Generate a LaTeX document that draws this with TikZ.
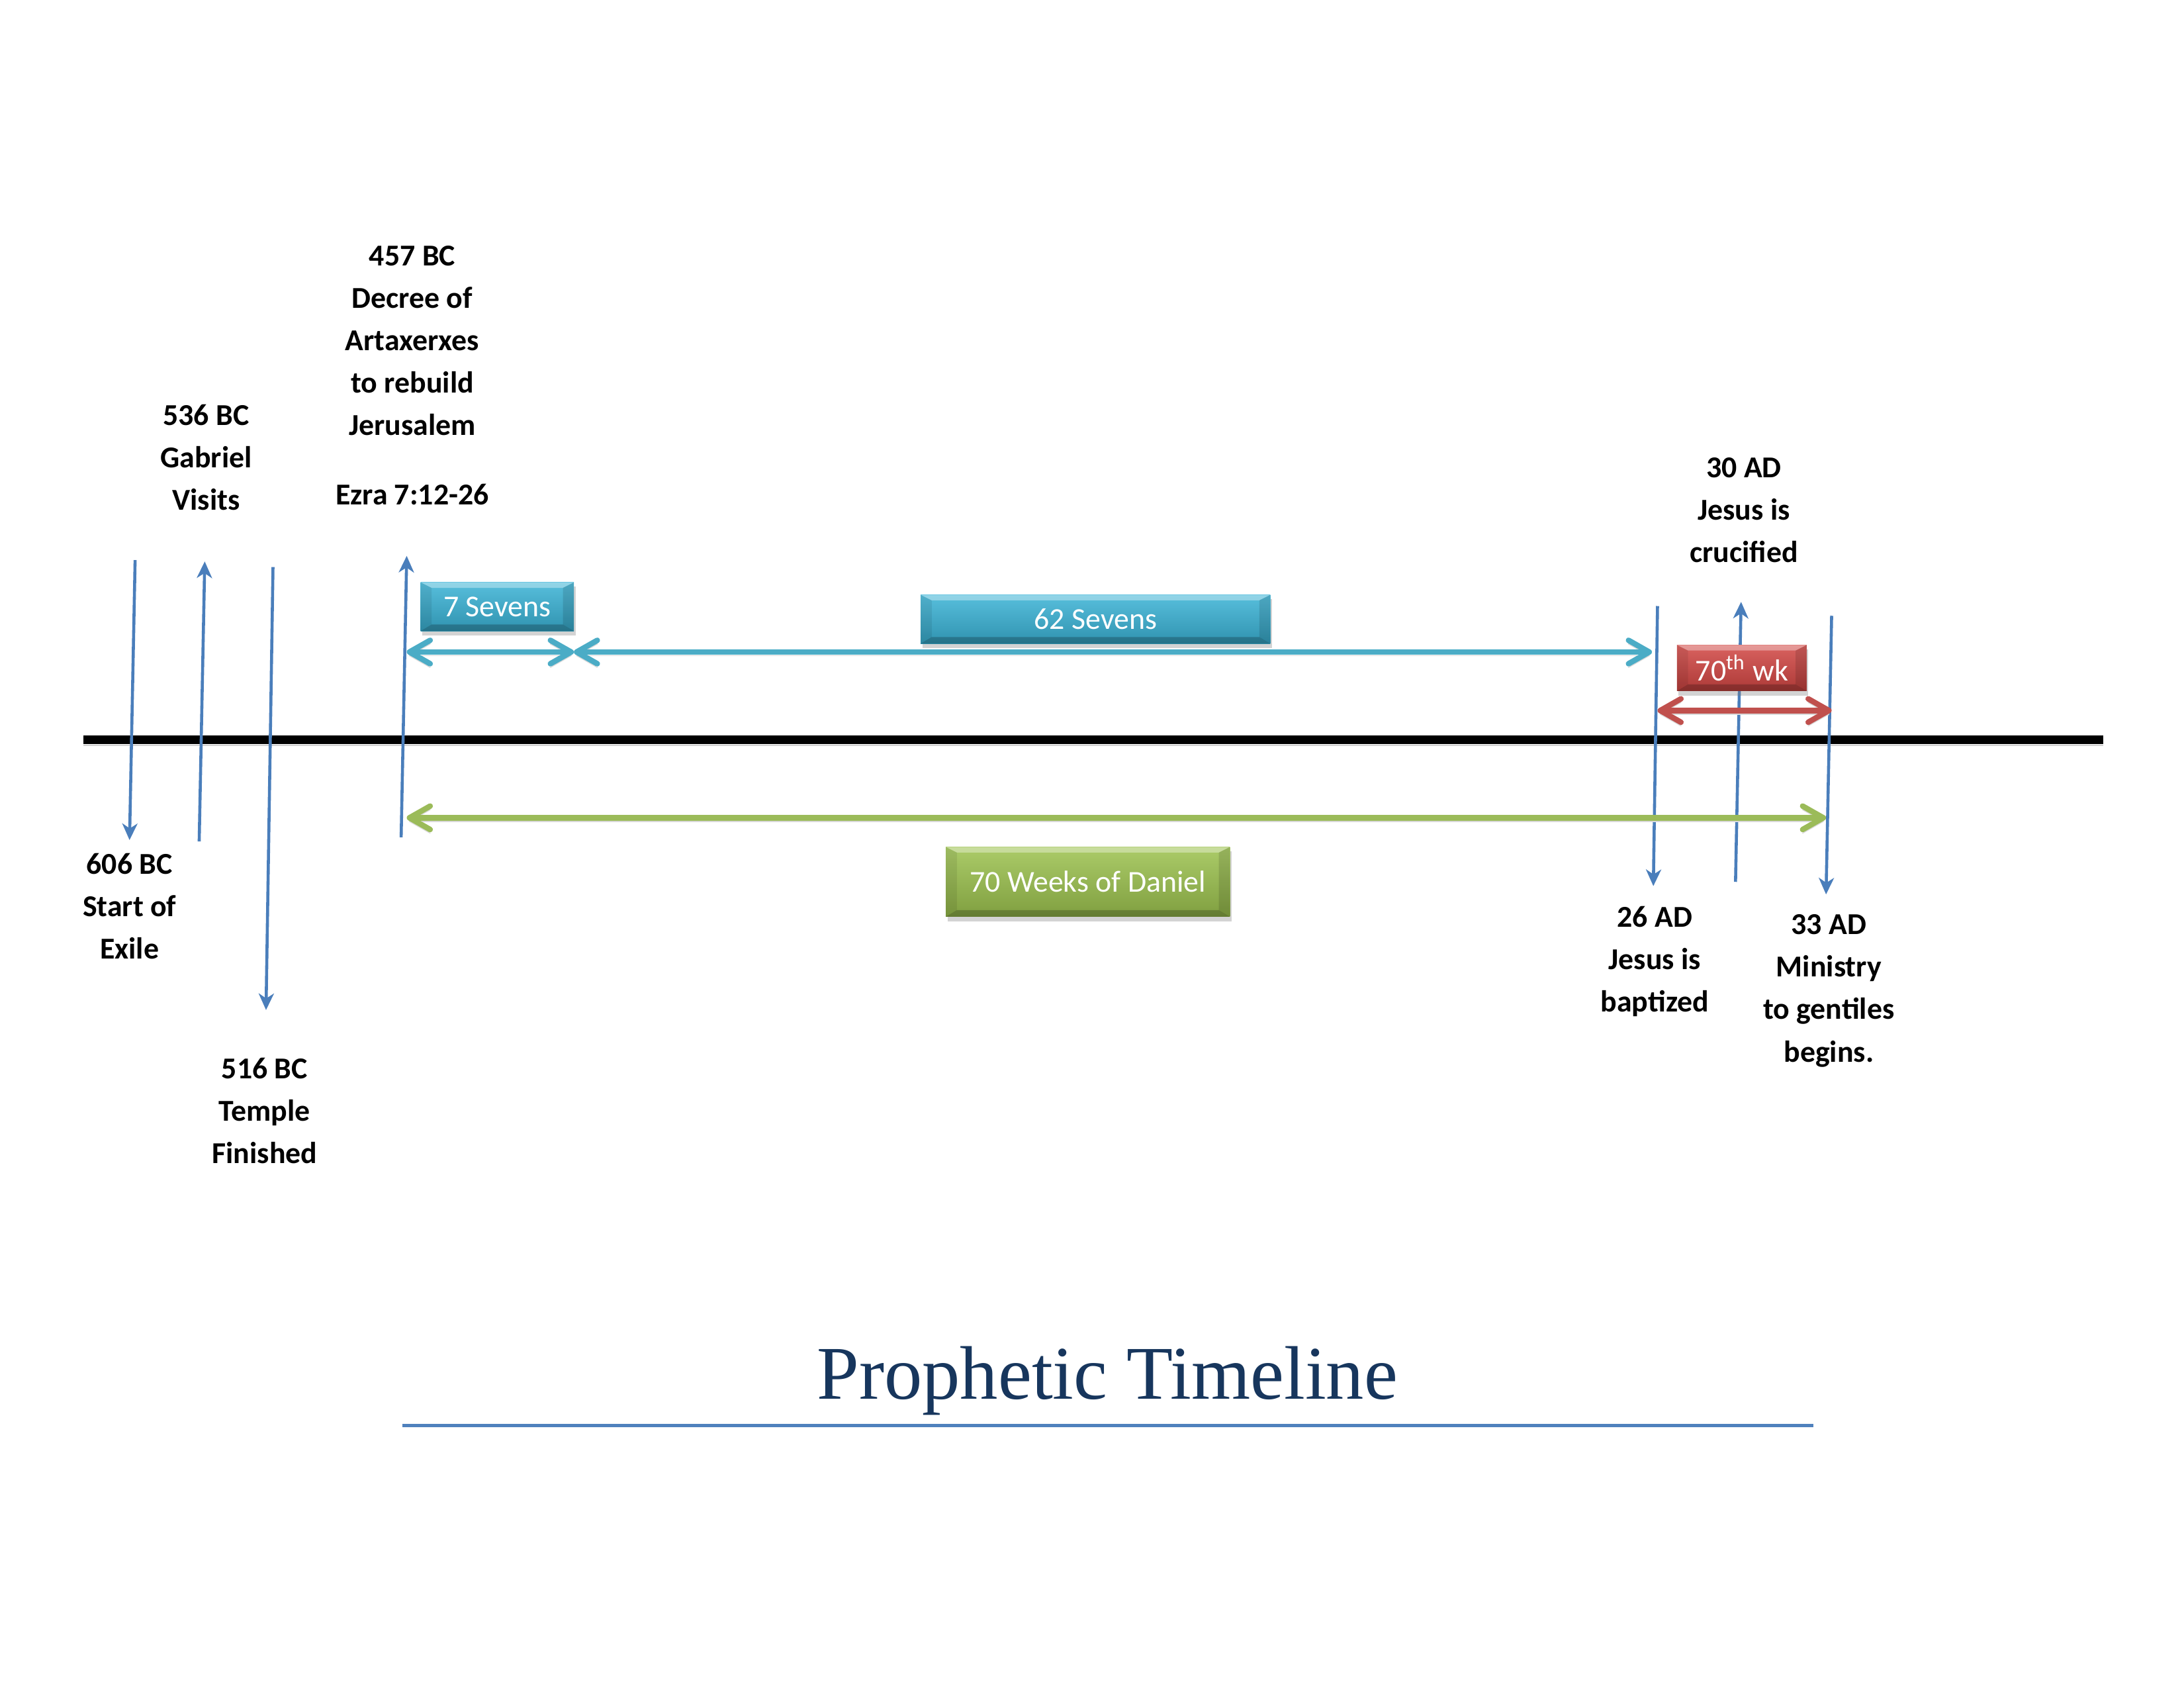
\documentclass[tikz,border=0pt]{standalone}
\usepackage{fontspec}
\setmainfont{Carlito}
\newfontfamily\titlefont{Liberation Serif}
\usepackage{xcolor}
\usetikzlibrary{arrows.meta, shadows}
\definecolor{eventblue}{HTML}{4A7EBB}
\definecolor{sevencyan}{HTML}{4BACC6}
\definecolor{barcyan}{HTML}{3AB3D6}
\definecolor{weekred}{HTML}{C0504D}
\definecolor{barred}{HTML}{D24643}
\definecolor{danielgreen}{HTML}{9BBB59}
\definecolor{bargreen}{HTML}{9CC24E}
\definecolor{titlenavy}{HTML}{17365D}
\definecolor{ruleblue}{HTML}{4F81BD}

\begin{document}
\begin{tikzpicture}[
    x=0.5051pt, y=-0.5051pt,
    event/.style={align=center, inner sep=0pt, anchor=north, font=\bfseries\fontsize{11}{15.4}\selectfont},
    marker/.style={draw=eventblue, line width=1.1pt, -{Stealth[length=6pt, width=5.5pt, inset=1.8pt]}},
    span/.style={line width=2pt, {Straight Barb[length=7.5pt, width=8.5pt, round]}-{Straight Barb[length=7.5pt, width=8.5pt, round]},
        preaction={draw=black!15, transform canvas={yshift=-1.3pt}}},
    bevel/.style={path picture={
        \fill[white, opacity=0.35] (path picture bounding box.north west) -- (path picture bounding box.north east)
            -- ([xshift=-4pt, yshift=-2pt]path picture bounding box.north east) -- ([xshift=4pt, yshift=-2pt]path picture bounding box.north west) -- cycle;
        \fill[black, opacity=0.22] (path picture bounding box.south west) -- (path picture bounding box.south east)
            -- ([xshift=-4pt, yshift=2.4pt]path picture bounding box.south east) -- ([xshift=4pt, yshift=2.4pt]path picture bounding box.south west) -- cycle;
        \fill[black, opacity=0.08] (path picture bounding box.north west) -- ([xshift=4pt, yshift=-2pt]path picture bounding box.north west)
            -- ([xshift=4pt, yshift=2.4pt]path picture bounding box.south west) -- (path picture bounding box.south west) -- cycle;
        \fill[black, opacity=0.12] (path picture bounding box.north east) -- ([xshift=-4pt, yshift=-2pt]path picture bounding box.north east)
            -- ([xshift=-4pt, yshift=2.4pt]path picture bounding box.south east) -- (path picture bounding box.south east) -- cycle;}},
    bar/.style={rectangle, inner sep=0pt, text=white, font=\fontsize{11}{13}\selectfont, bevel,
        drop shadow={shadow xshift=0.6pt, shadow yshift=-1.6pt, opacity=0.35}},
    cyanbar/.style={bar, top color=barcyan!85!white, bottom color=barcyan!82!black},
    redbar/.style={bar, top color=barred!85!white, bottom color=barred!82!black},
    greenbar/.style={bar, top color=bargreen!85!white, bottom color=bargreen!82!black}
]
    \useasboundingbox (0,0) rectangle (1568,1211.6);

    % Main time line
    \coordinate (tl1) at (60,531);
    \coordinate (tl2) at (1510,531);
    \draw[line width=3.2pt, preaction={draw=black!18, transform canvas={yshift=-2pt}}] (tl1) -- (tl2);

    % Event labels
    \node[event] (l606) at (93,612) {606 BC\\Start of\\Exile};
    \node[event] (l536) at (148,290) {536 BC\\Gabriel\\Visits};
    \node[event] (l516) at (190,759) {516 BC\\Temple\\Finished};
    \node[event] (l457) at (296,176) {457 BC\\Decree of\\Artaxerxes\\to rebuild\\Jerusalem\\[9.8pt]Ezra 7:12-26};
    \node[event] (l26) at (1188,650) {26 AD\\Jesus is\\baptized};
    \node[event] (l30) at (1252,328) {30 AD\\Jesus is\\crucified};
    \node[event] (l33) at (1313,656) {33 AD\\Ministry\\to gentiles\\begins.};

    % Event markers
    \coordinate (a606) at (97,402);   \coordinate (b606) at (93,603);
    \coordinate (a536) at (143,604);  \coordinate (b536) at (147,403);
    \coordinate (a516) at (196,407);  \coordinate (b516) at (191,725);
    \coordinate (a457) at (288,601);  \coordinate (b457) at (292,399);
    \coordinate (a26) at (1190,435);  \coordinate (b26) at (1187,636);
    \coordinate (a30) at (1246,633);  \coordinate (b30) at (1250,432);
    \coordinate (a33) at (1315,442);  \coordinate (b33) at (1311,642);
    \draw[marker] (a606) -- (b606);
    \draw[marker] (a536) -- (b536);
    \draw[marker] (a516) -- (b516);
    \draw[marker] (a457) -- (b457);
    \draw[marker] (a26) -- (b26);
    \draw[marker] (a30) -- (b30);
    \draw[marker] (a33) -- (b33);

    % Periods
    \coordinate (p7a) at (292,468);   \coordinate (p7b) at (412,468);
    \coordinate (p62b) at (1186,468);
    \coordinate (pwa) at (1190,510);  \coordinate (pwb) at (1315,510);
    \coordinate (pda) at (292,587);   \coordinate (pdb) at (1311,587);
    \draw[span, sevencyan] (p7a) -- (p7b);
    \draw[span, sevencyan] (p7b) -- (p62b);
    \draw[span, weekred] (pwa) -- (pwb);
    \draw[span, danielgreen] (pda) -- (pdb);

    % Period boxes
    \node[cyanbar, minimum width=55.6pt, minimum height=17.7pt] (s7) at (357,435.5) {7 Sevens};
    \node[cyanbar, minimum width=126.8pt, minimum height=17.7pt] (s62) at (786.5,444.5) {62 Sevens};
    \node[redbar, minimum width=47pt, minimum height=16.7pt] (wk70) at (1250.5,479.5) {70\textsuperscript{th} wk};
    \node[greenbar, minimum width=103pt, minimum height=25.3pt] (d70) at (781,633) {70 Weeks of Daniel};

    % Title
    \node[anchor=base, inner sep=0pt, text=titlenavy, font=\titlefont\fontsize{27.5}{32}\selectfont] (title) at (795,1004) {Prophetic Timeline};
    \coordinate (ul1) at (289,1023);
    \coordinate (ul2) at (1302,1023);
    \draw[ruleblue, line width=1.2pt] (ul1) -- (ul2);
\end{tikzpicture}
\end{document}
